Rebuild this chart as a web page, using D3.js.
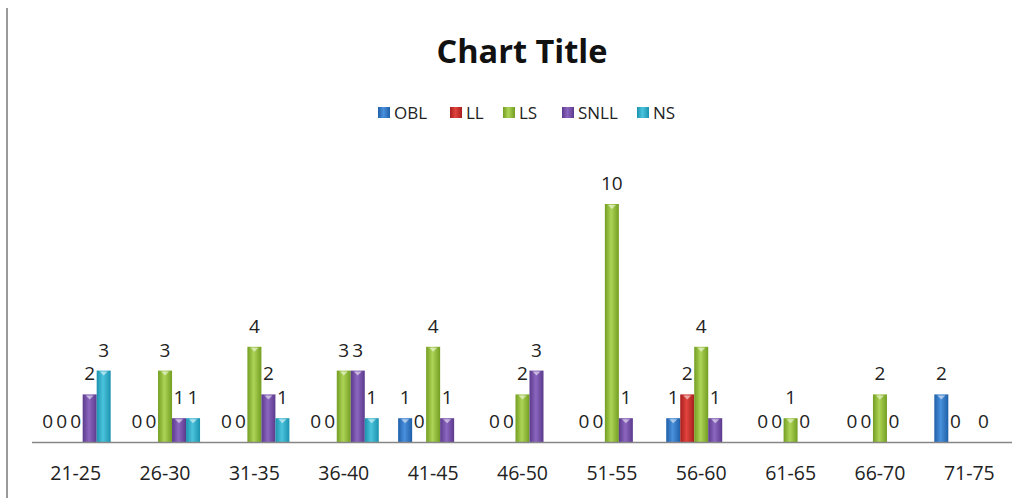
<!DOCTYPE html>
<html>
<head>
<meta charset="utf-8">
<script src="https://cdn.jsdelivr.net/npm/d3@7/dist/d3.min.js"></script>
<style>
  html, body { margin: 0; padding: 0; background: #fff; }
  svg { display: block; font-family: "Open Sans", "DejaVu Sans", sans-serif; }
</style>
</head>
<body>
<svg id="chart" width="1028" height="498"></svg>
<script>
const categories = ["21-25","26-30","31-35","36-40","41-45","46-50","51-55","56-60","61-65","66-70","71-75"];
const seriesNames = ["OBL","LL","LS","SNLL","NS"];
const OBL  = [0,0,0,0,1,0,0,1,0,0,2];
const LL   = [0,0,0,0,0,0,0,2,0,0,0];
const LS   = [0,3,4,3,4,2,10,4,1,2,null];
const SNLL = [2,1,2,3,1,3,1,1,0,0,0];
const NS   = [3,1,1,1,null,null,null,null,null,null,null];
const seriesValues = [OBL, LL, LS, SNLL, NS];
const colors = {
  OBL:  ["#1f5fa8", "#4a90dc"],
  LL:   ["#a81e1e", "#e0443c"],
  LS:   ["#739e22", "#add456"],
  SNLL: ["#5b3a8c", "#8c66bf"],
  NS:   ["#1b93b0", "#4cc3dc"]
};

const svg = d3.select("#chart");
const W = 1028, H = 498;

// left frame line
svg.append("line").attr("x1", 7).attr("x2", 7).attr("y1", 8).attr("y2", H)
  .attr("stroke", "#9a9a9a").attr("stroke-width", 2);

const baseY = 442;
const x0 = d3.scaleBand().domain(categories).range([31, 1014]).paddingInner(0).paddingOuter(0);
const x1 = d3.scaleBand().domain(seriesNames).range([0, 70]);
const y = d3.scaleLinear().domain([0, 12]).range([baseY, baseY - 12 * 23.8]);

// gradients
const defs = svg.append("defs");
seriesNames.forEach(s => {
  const g = defs.append("linearGradient").attr("id", "g_" + s)
    .attr("x1", "0%").attr("x2", "100%").attr("y1", "0%").attr("y2", "0%");
  g.append("stop").attr("offset", "0%").attr("stop-color", colors[s][0]);
  g.append("stop").attr("offset", "45%").attr("stop-color", colors[s][1]);
  g.append("stop").attr("offset", "100%").attr("stop-color", colors[s][0]);
});

// Title
svg.append("text").attr("x", 522).attr("y", 63).attr("text-anchor", "middle")
  .attr("font-size", 32.5).attr("font-weight", "bold").attr("fill", "#111")
  .text("Chart Title");

// Legend
const legendX = [378, 450, 503, 562, 637];
const lg = svg.append("g");
seriesNames.forEach((s, i) => {
  lg.append("rect").attr("x", legendX[i]).attr("y", 107).attr("width", 12).attr("height", 11)
    .attr("fill", "url(#g_" + s + ")");
  lg.append("text").attr("x", legendX[i] + 16).attr("y", 119)
    .attr("font-size", 17).attr("fill", "#222").text(s);
});

// Bars
const groups = svg.append("g").selectAll("g").data(categories).join("g")
  .attr("transform", d => `translate(${x0(d) + x0.bandwidth() / 2 - 35},0)`);

seriesNames.forEach((s, si) => {
  const vals = seriesValues[si];
  groups.each(function(cat, ci) {
    const v = vals[ci];
    if (v === null || v === undefined) return;
    const g = d3.select(this);
    const bx = x1(s), bw = x1.bandwidth();
    if (v > 0) {
      g.append("rect").attr("x", bx).attr("y", y(v)).attr("width", bw).attr("height", y(0) - y(v))
        .attr("fill", "url(#g_" + s + ")");
      g.append("path")
        .attr("d", `M${bx + bw/2 - 4},${y(v) + 1} L${bx + bw/2 + 4},${y(v) + 1} L${bx + bw/2},${y(v) + 5} Z`)
        .attr("fill", "#fff").attr("opacity", 0.55);
    }
    g.append("text").attr("x", bx + bw / 2).attr("y", y(v) - 14)
      .attr("text-anchor", "middle").attr("font-size", 19).attr("fill", "#222")
      .text(v);
  });
});

// baseline
svg.append("line").attr("x1", 32).attr("x2", 1012).attr("y1", baseY + 0.5).attr("y2", baseY + 0.5)
  .attr("stroke", "#868686").attr("stroke-width", 1.5);

// category axis labels
const xAxis = d3.axisBottom(x0).tickSize(0).tickPadding(0);
const ax = svg.append("g").attr("transform", `translate(0,${baseY})`).call(xAxis);
ax.select(".domain").remove();
ax.selectAll("text").attr("font-size", 19.5).attr("fill", "#222")
  .attr("font-family", "'Open Sans', sans-serif").attr("dy", 38);
</script>
</body>
</html>
